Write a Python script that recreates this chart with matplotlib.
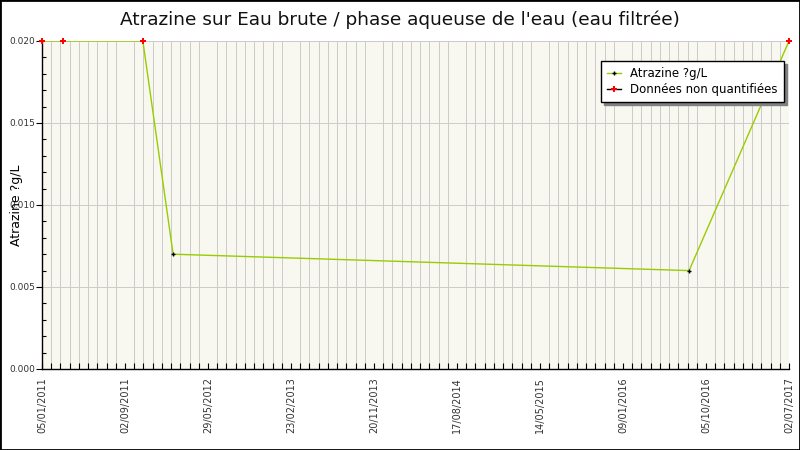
import matplotlib
matplotlib.use('Agg')
import matplotlib.pyplot as plt
import matplotlib.dates as mdates
from matplotlib.lines import Line2D
from matplotlib.patches import Rectangle
import numpy as np
from datetime import date

# data
dates = [date(2011, 1, 5), date(2011, 3, 13), date(2011, 11, 21),
         date(2012, 2, 25), date(2016, 8, 19), date(2017, 7, 2)]
values = [0.020, 0.020, 0.020, 0.007, 0.006, 0.020]
quantified = [False, False, False, True, True, False]

tick_labels = ['05/01/2011', '02/09/2011', '29/05/2012', '23/02/2013', '20/11/2013',
               '17/08/2014', '14/05/2015', '09/01/2016', '05/10/2016', '02/07/2017']

line_color = '#99cc00'
x = mdates.date2num(dates)
vals = np.array(values)
q = np.array(quantified)

fig = plt.figure(figsize=(8, 4.5), dpi=100)
ax = fig.add_axes([42 / 800, 81 / 450, 747 / 800, 328 / 450])
ax.set_facecolor('#f8f8f0')

ax.plot(x, vals, color=line_color, lw=1, zorder=3)
ax.plot(x[q], vals[q], ls='none', marker='+', ms=3, mew=1, color='black', zorder=4)
ax.plot(x[~q], vals[~q], ls='none', marker='P', ms=4, mew=0, color='red', zorder=4, clip_on=False)

x0, x1 = x[0], x[-1]
ax.set_xlim(x0, x1)
ax.set_ylim(0, 0.020)

major = np.linspace(x0, x1, len(tick_labels))
minor = np.linspace(x0, x1, (len(tick_labels) - 1) * 9 + 1)
ax.set_xticks(major)
ax.set_xticklabels(tick_labels, rotation=90, fontsize=7, color='#333333')
ax.set_xticks(minor, minor=True)
ax.tick_params(axis='x', which='both', direction='in', length=4, width=0.8, pad=6)

ax.set_yticks(np.arange(0, 0.0201, 0.005))
ax.set_yticklabels(['%.3f' % v for v in np.arange(0, 0.0201, 0.005)], fontsize=6.5, color='#333333')
ax.set_yticks(np.arange(0, 0.0201, 0.001), minor=True)
ax.tick_params(axis='y', which='major', direction='out', length=4, width=0.8, pad=1)
ax.tick_params(axis='y', which='minor', direction='in', length=3, width=0.8)

# 1 px grid lines
ax.grid(True, axis='y', which='major', color='#cccccc', lw=0.72, antialiased=False)
ax.grid(True, axis='x', which='minor', color='#cccccc', lw=0.72, antialiased=False)
ax.set_axisbelow(True)

for s in ['top', 'right']:
    ax.spines[s].set_visible(False)
ax.spines['left'].set_linewidth(1)
ax.spines['bottom'].set_linewidth(1)

ax.set_ylabel('Atrazine ?g/L', fontsize=9)
ax.yaxis.set_label_coords(-0.026, 0.5)
fig.text(0.5, 0.957, "Atrazine sur Eau brute / phase aqueuse de l'eau (eau filtrée)",
         ha='center', va='center', fontsize=13.3, color='#111111')

handles = [Line2D([], [], color=line_color, marker='+', ms=3, mec='black', lw=1),
           Line2D([], [], color='black', marker='P', ms=4, mfc='red', mec='red', mew=0, lw=1)]
leg = ax.legend(handles, ['Atrazine ?g/L', 'Données non quantifiées'],
                loc='upper right', bbox_to_anchor=(0.993, 0.939), borderaxespad=0,
                fontsize=8.5, frameon=True, fancybox=False,
                shadow={'color': '#808080', 'alpha': 1},
                handlelength=1.2, borderpad=0.5, labelspacing=0.3, handletextpad=0.8)
leg.get_frame().set_edgecolor('black')
leg.get_frame().set_linewidth(1)

fig.patches.append(Rectangle((0, 0), 1, 1, transform=fig.transFigure, fill=False,
                             edgecolor='black', lw=2, zorder=10))

fig.savefig('out.png', dpi=100)
